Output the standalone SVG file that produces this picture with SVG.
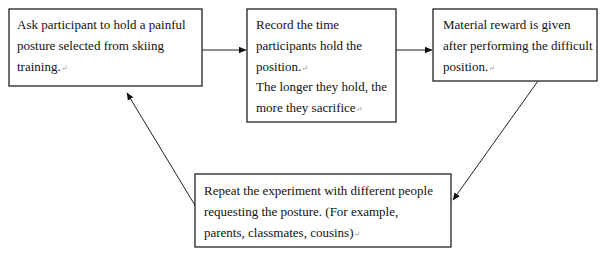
<svg xmlns="http://www.w3.org/2000/svg" width="600" height="264" viewBox="0 0 600 264">
<style>
.box{fill:#fff;stroke:#222;stroke-width:1.3}
text{font-family:'Liberation Serif','Times New Roman','DejaVu Serif',serif;font-size:13px;fill:#111}
.m{font-size:8px;fill:#999}
.c{stroke:#222;stroke-width:1;fill:none}
</style>
<defs>
<marker id="ah" markerWidth="8" markerHeight="8" refX="7" refY="4" orient="auto" markerUnits="userSpaceOnUse">
<path d="M0,0.8 L7.5,4 L0,7.2 z" fill="#111"/>
</marker>
</defs>
<rect width="600" height="264" fill="#fff"/>
<g id="connectors">
<line class="c" x1="202" y1="50" x2="246" y2="50" marker-end="url(#ah)"/>
<line class="c" x1="396" y1="50" x2="432" y2="50" marker-end="url(#ah)"/>
<line class="c" x1="538" y1="81" x2="453" y2="200" marker-end="url(#ah)"/>
<line class="c" x1="196" y1="207" x2="127" y2="93" marker-end="url(#ah)"/>
</g>
<g id="n1">
<rect class="box" x="9" y="9" width="193" height="77"/>
<text x="17" y="29">Ask participant to hold a painful</text>
<text x="17" y="50">posture selected from skiing</text>
<text x="17" y="71">training.<tspan class="m">↵</tspan></text>
</g>
<g id="n2">
<rect class="box" x="247" y="9" width="149" height="113"/>
<text x="256" y="29">Record the time</text>
<text x="256" y="50">participants hold the</text>
<text x="256" y="71">position.<tspan class="m">↵</tspan></text>
<text x="256" y="91">The longer they hold, the</text>
<text x="256" y="112">more they sacrifice<tspan class="m">↵</tspan></text>
</g>
<g id="n3">
<rect class="box" x="433" y="9" width="164" height="72"/>
<text x="443" y="29">Material reward is given</text>
<text x="443" y="50">after performing the difficult</text>
<text x="443" y="71">position.<tspan class="m">↵</tspan></text>
</g>
<g id="n4">
<rect class="box" x="195" y="174" width="256" height="73"/>
<text x="204" y="195">Repeat the experiment with different people</text>
<text x="204" y="216">requesting the posture. (For example,</text>
<text x="204" y="237">parents, classmates, cousins)<tspan class="m">↵</tspan></text>
</g>
</svg>
